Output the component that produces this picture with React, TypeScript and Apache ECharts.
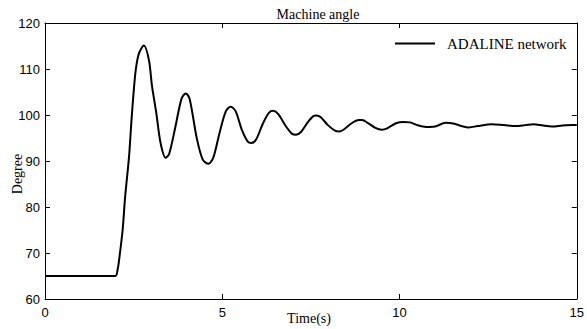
import React, { useEffect, useRef } from "react";
import * as echarts from "echarts";

const timeS: number[] = [
  0, 1.98, 2.05, 2.09, 2.19, 2.26, 2.37, 2.44, 2.49, 2.56, 2.65, 2.79, 2.93, 3.02, 3.14, 3.26, 3.4, 3.5,
  3.68, 3.85, 3.97, 4.08, 4.28, 4.45, 4.61, 4.75, 4.92, 5.1, 5.24, 5.38, 5.55, 5.72, 5.82, 5.95, 6.15,
  6.32, 6.44, 6.58, 6.8, 6.97, 7.08, 7.22, 7.42, 7.58, 7.66, 7.78, 7.98, 8.18, 8.29, 8.42, 8.65, 8.85,
  8.95, 9.1, 9.32, 9.5, 9.65, 9.9, 10.1, 10.3, 10.5, 10.75, 11.0, 11.3, 11.55, 11.75, 11.96, 12.2, 12.6,
  12.95, 13.27, 13.55, 13.78, 14.05, 14.3, 14.6, 14.9, 15.0,
];
const angleDeg: number[] = [
  65, 65, 66.5, 68.5, 75, 82.2, 90.9, 98.9, 104, 109.8, 113.4, 115.1, 112, 106.2, 100.4, 93.9, 90.7, 91.5,
  97.5, 103.5, 104.7, 103.5, 95, 90.3, 89.4, 90.8, 96, 100.8, 101.8, 100.8, 96.8, 94.2, 93.9, 94.6, 98.2,
  100.5, 100.9, 100.2, 97.5, 95.9, 95.7, 96.3, 98.5, 99.8, 99.9, 99.5, 97.8, 96.6, 96.4, 96.8, 98.2, 98.9,
  98.9, 98.3, 97.2, 96.8, 97.1, 98.2, 98.5, 98.4, 97.8, 97.4, 97.5, 98.3, 98.1, 97.6, 97.3, 97.6, 98.0,
  97.8, 97.6, 97.8, 98.0, 97.7, 97.5, 97.7, 97.8, 97.8,
];
const seriesName = "ADALINE network";
const titleText = "Machine angle";
const xName = "Time(s)";
const yName = "Degree";

const serif = "Liberation Serif";
const sans = "Liberation Sans";

export default function App() {
  const ref = useRef<HTMLDivElement>(null);
  useEffect(() => {
    if (!ref.current) return;
    const chart = echarts.init(ref.current, undefined, { renderer: "svg" });
    const axisCommon = {
      axisLine: { show: true, onZero: false, lineStyle: { color: "#000", width: 1 } },
      axisTick: { show: true, inside: true, length: 5, lineStyle: { color: "#000" } },
      splitLine: { show: false },
    };
    chart.setOption({
      animation: false,
      backgroundColor: "#fff",
      title: {
        text: titleText,
        left: 313,
        textAlign: "center",
        top: 2,
        textStyle: { fontFamily: serif, fontSize: 14, fontWeight: "normal", color: "#000" },
      },
      legend: {
        data: [seriesName],
        left: 395,
        top: 36,
        padding: 0,
        icon: "rect",
        itemWidth: 40,
        itemHeight: 2,
        textStyle: { fontFamily: serif, fontSize: 15, color: "#000", padding: [0, 0, 0, 7] },
      },
      grid: { left: 45, right: 5, top: 23, bottom: 30, containLabel: false },
      xAxis: [
        {
          type: "value",
          min: 0,
          max: 15,
          interval: 5,
          position: "bottom",
          ...axisCommon,
          axisLabel: { fontFamily: sans, fontSize: 13, color: "#000", margin: 7 },
        },
        {
          type: "value",
          min: 0,
          max: 15,
          interval: 5,
          position: "top",
          ...axisCommon,
          axisLabel: { show: false },
        },
      ],
      yAxis: [
        {
          type: "value",
          min: 60,
          max: 120,
          interval: 10,
          position: "left",
          ...axisCommon,
          axisLabel: { fontFamily: sans, fontSize: 13, color: "#000", margin: 5 },
        },
        {
          type: "value",
          min: 60,
          max: 120,
          interval: 10,
          position: "right",
          ...axisCommon,
          axisLabel: { show: false },
        },
      ],
      graphic: [
        {
          type: "text",
          x: 309,
          y: 318,
          style: {
            text: xName,
            font: `14px "${serif}"`,
            fill: "#000",
            align: "center",
            verticalAlign: "middle",
          },
        },
        {
          type: "text",
          x: 17,
          y: 174,
          rotation: Math.PI / 2,
          style: {
            text: yName,
            font: `14px "${serif}"`,
            fill: "#000",
            align: "center",
            verticalAlign: "middle",
          },
        },
      ],
      series: [
        {
          name: seriesName,
          type: "line",
          data: timeS.map((t, i) => [t, angleDeg[i]]),
          showSymbol: false,
          smooth: 0.3,
          lineStyle: { color: "#000", width: 2 },
          itemStyle: { color: "#000" },
        },
      ],
    });
    return () => chart.dispose();
  }, []);
  return (
    <div
      ref={ref}
      style={{ position: "fixed", left: 0, top: 0, width: 587, height: 329 }}
    />
  );
}
